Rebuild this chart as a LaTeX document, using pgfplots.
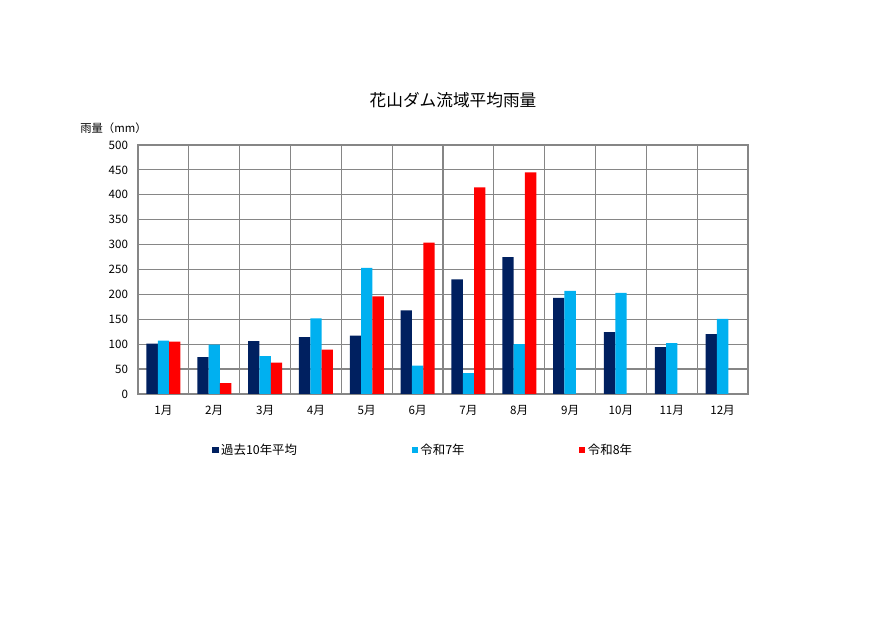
\documentclass[border=0pt]{standalone}
\usepackage{fontspec}
\setmainfont{Noto Sans CJK JP}
\usepackage{pgfplots}
\pgfplotsset{compat=1.18}
\definecolor{navy}{HTML}{002060}
\definecolor{sky}{HTML}{00B0F0}
\definecolor{rd}{HTML}{FF0000}
\definecolor{gridgray}{HTML}{868686}

\begin{document}
\begin{tikzpicture}
\path[use as bounding box] (0,0) rectangle (667.5pt,472.5pt);
\node[font=\fontsize{12.5}{14}\selectfont] at (339.75pt,397.5pt) {花山ダム流域平均雨量};
\node[font=\fontsize{8.5}{10}\selectfont, anchor=west, inner sep=0pt] at (60pt,376.5pt) {雨量（mm）};
\begin{axis}[
  at={(103.5pt,177pt)}, anchor=south west,
  scale only axis, width=457.5pt, height=186.75pt,
  ybar=0pt, bar width=8.5pt,
  xmin=0.5, xmax=12.5, ymin=0, ymax=500,
  ytick={0,50,...,500},
  xtick={1,...,12},
  xticklabels={1月,2月,3月,4月,5月,6月,7月,8月,9月,10月,11月,12月},
  minor xtick={1.5,2.5,3.5,4.5,5.5,6.5,7.5,8.5,9.5,10.5,11.5},
  xminorgrids, ymajorgrids,
  grid style={gridgray, line width=0.9pt},
  minor grid style={gridgray, line width=0.9pt},
  axis line style={gridgray, line width=0.9pt},
  major tick length=0pt, minor tick length=0pt,
  tick label style={font=\fontsize{8.7}{10}\selectfont},
  yticklabel style={xshift=-4pt},
  xticklabel style={yshift=-5pt},
  /pgf/number format/assume math mode=true,
  legend columns=3,
  legend image code/.code={\fill[#1] (0pt,-2.3pt) rectangle (4.6pt,2.3pt);},
  legend style={draw=none, fill=none, at={(0.115,-0.225)}, anchor=west,
    font=\fontsize{9.3}{11}\selectfont,
    /tikz/every even column/.append style={column sep=84pt}},
]
\addplot[fill=navy, draw=none] coordinates {
  (1,101) (2,74) (3,106) (4,114) (5,117) (6,168)
  (7,230) (8,275) (9,193) (10,124) (11,94) (12,120)};
\addplot[fill=sky, draw=none] coordinates {
  (1,107) (2,99) (3,76) (4,152) (5,253) (6,57)
  (7,42) (8,100) (9,207) (10,203) (11,102) (12,151)};
\addplot[fill=rd, draw=none] coordinates {
  (1,105) (2,22) (3,63) (4,89) (5,196) (6,304)
  (7,415) (8,445)};
\legend{過去10年平均,令和7年,令和8年}
\end{axis}
\end{tikzpicture}
\end{document}
